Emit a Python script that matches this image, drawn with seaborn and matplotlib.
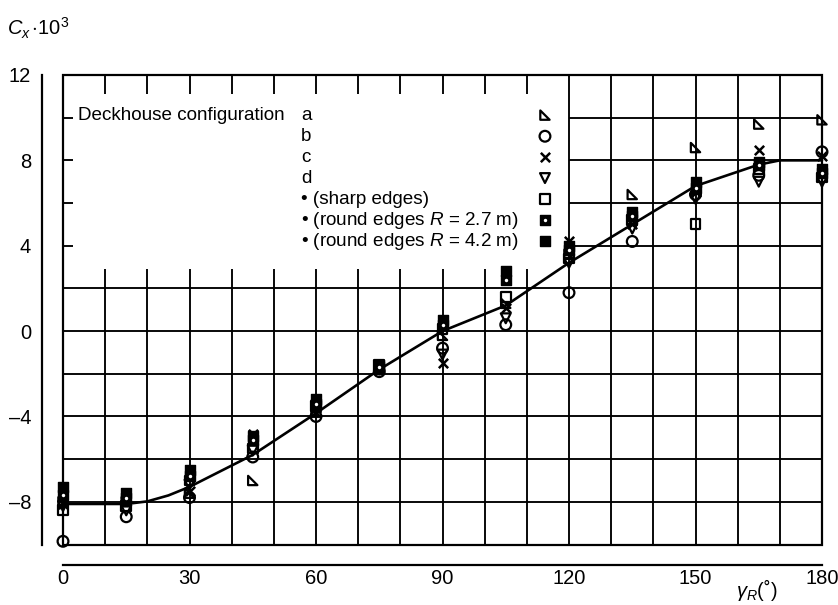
import numpy as np
import pandas as pd
import matplotlib
matplotlib.use("Agg")
import matplotlib.pyplot as plt
from matplotlib.path import Path
from matplotlib.patches import Rectangle
import seaborn as sns

# ---------------- data ----------------
angles = [0, 15, 30, 45, 60, 75, 90, 105, 120, 135, 150, 165, 180]
cfg_a = [-8.0, -8.0, -7.6, -7.0, -3.8, -1.8, -0.2, 1.3, 3.6, 6.4, 8.6, 9.7, 9.9]
cfg_b = [-9.85, -8.7, -7.8, -5.9, -4.0, -1.9, -0.8, 0.3, 1.8, 4.2, 6.4, 7.3, 8.4]
cfg_c = [-8.1, -7.9, -7.5, -4.8, -3.6, -1.7, -1.5, 1.1, 4.2, 5.0, 6.5, 8.5, 8.2]
cfg_d = [-8.2, -8.4, -7.2, -5.6, -3.7, -1.8, -1.1, 0.6, 3.2, 4.8, 6.2, 7.0, 7.0]
sharp = [-8.4, -8.2, -7.0, -5.5, -3.5, -1.6, 0.1, 1.6, 3.4, 5.2, 5.0, 7.6, 7.2]
round_27 = [-7.7, -7.8, -6.8, -5.1, -3.4, -1.7, 0.3, 2.4, 3.8, 5.4, 6.7, 7.8, 7.4]
round_42 = [-7.3, -7.6, -6.5, -4.9, -3.2, -1.6, 0.5, 2.8, 4.0, 5.6, 7.0, 7.9, 7.6]

curve_x = [0, 15, 20, 25, 30, 45, 60, 75, 90, 105, 120, 135, 150, 165, 170, 180]
curve_y = [-8.1, -8.1, -7.98, -7.7, -7.3, -5.8, -3.85, -1.8, 0.0, 1.2, 3.2, 5.0, 6.8, 7.8, 8.0, 8.0]

legend_labels = ["a", "b", "c", "d", "\u2022 (sharp edges)",
                 "\u2022 (round edges $R$ = 2.7 m)", "\u2022 (round edges $R$ = 4.2 m)"]

xticks = [0, 30, 60, 90, 120, 150, 180]
yticks = [-8, -4, 0, 4, 8, 12]

# ---------------- style ----------------
sns.set_theme(style="white")
plt.rcParams["font.family"] = ["Liberation Sans", "DejaVu Sans"]
plt.rcParams["mathtext.fontset"] = "custom"
plt.rcParams["mathtext.rm"] = "Liberation Sans"
plt.rcParams["mathtext.it"] = "Liberation Sans:italic"
plt.rcParams["mathtext.bf"] = "Liberation Sans:bold"

W, H = 838, 605
fig = plt.figure(figsize=(W / 100, H / 100), dpi=100)
ax = fig.add_axes([63 / W, 1 - 544.5 / H, 759 / W, 469.5 / H])
ax.set_xlim(0, 180)
ax.set_ylim(-10, 12)

K = "black"
glw = 1.35

# grid (with blank legend area)
ax.vlines(np.arange(10, 120, 10), -10, 2.9, color=K, lw=glw, zorder=1)
ax.vlines(np.arange(120, 180, 10), -10, 12, color=K, lw=glw, zorder=1)
ax.hlines(np.arange(-8, 3, 2), 0, 180, color=K, lw=glw, zorder=1)
ax.hlines(np.arange(4, 11, 2), 120, 180, color=K, lw=glw, zorder=1)
ax.vlines(np.arange(10, 120, 10), 11.1, 12, color=K, lw=glw, zorder=1)
ax.hlines(np.arange(4, 11, 2), 0, 2.4, color=K, lw=glw, zorder=1)
ax.add_patch(Rectangle((0, 0), 1, 1, transform=ax.transAxes, fill=False,
                       lw=1.6, ec=K, zorder=2, clip_on=False))

# spines
for s in ["top", "right"]:
    ax.spines[s].set_visible(False)
ax.spines["left"].set_position(("outward", 15))
ax.spines["bottom"].set_position(("outward", 14.8))
ax.spines["left"].set_bounds(-10, 12)
ax.spines["bottom"].set_bounds(0, 180)
for s in ["left", "bottom"]:
    ax.spines[s].set_color(K)
    ax.spines[s].set_linewidth(1.6)
ax.set_xticks(xticks)
ax.set_yticks(yticks)
ax.set_yticklabels([str(v).replace("-", "\u2013") for v in yticks])
ax.tick_params(axis="both", direction="in", length=7, width=1.5, colors=K,
               labelsize=14.5, labelcolor=K)
ax.tick_params(axis="y", pad=8)
ax.tick_params(axis="x", pad=3)
ax.grid(False)
ax.set_facecolor("white")

# curve
sns.lineplot(x=curve_x, y=curve_y, ax=ax, color=K, lw=1.9, sort=False,
             zorder=3, clip_on=False)

tri = Path([(-1, 1), (-1, -1), (1, -1), (-1, 1)],
           [Path.MOVETO, Path.LINETO, Path.LINETO, Path.CLOSEPOLY])

series = [
    (cfg_a, dict(marker=tri, s=45, facecolor="none", edgecolor=K, linewidth=1.6)),
    (cfg_b, dict(marker="o", s=60, facecolor="none", edgecolor=K, linewidth=1.6)),
    (cfg_c, dict(marker="x", s=45, color=K, linewidth=1.8)),
    (cfg_d, dict(marker="v", s=50, facecolor="none", edgecolor=K, linewidth=1.6)),
    (sharp, dict(marker="s", s=50, facecolor="none", edgecolor=K, linewidth=1.6)),
    (round_27, dict(marker="s", s=50, facecolor=K, edgecolor=K, linewidth=1.0)),
    (round_42, dict(marker="s", s=55, facecolor=K, edgecolor=K, linewidth=1.0)),
]
for vals, kw in series:
    sns.scatterplot(x=angles, y=vals, ax=ax, zorder=4, clip_on=False, legend=False, **kw)
sns.scatterplot(x=angles, y=round_27, ax=ax, marker="o", s=6, facecolor="white",
                edgecolor="white", linewidth=0, zorder=5, clip_on=False, legend=False)

# legend (text block)
rows_y = [10.12, 9.13, 8.15, 7.17, 6.18, 5.2, 4.2]
ax.text(3.5, rows_y[0], "Deckhouse configuration", fontsize=13.6, va="center",
        ha="left", color=K)
for yv, lab in zip(rows_y, legend_labels):
    ax.text(56.5, yv, lab, fontsize=13.6, va="center", ha="left", color=K)
for yv, (_, kw) in zip(rows_y, series):
    sns.scatterplot(x=[114.3], y=[yv], ax=ax, zorder=4, legend=False, **kw)
sns.scatterplot(x=[114.3], y=[rows_y[5]], ax=ax, marker="o", s=6, facecolor="white",
                edgecolor="white", linewidth=0, zorder=5, legend=False)

ax.set_xlabel("")
ax.set_ylabel("")
fig.text(7 / W, 1 - 28 / H, r"$C_x\,{\cdot}\mathrm{10}^3$", fontsize=14.5,
         ha="left", va="center", color=K)
fig.text(757 / W, 1 - 590 / H, r"$\gamma_R$(˚)", fontsize=14.5,
         ha="center", va="center", color=K)

fig.savefig("out.png", dpi=100)
